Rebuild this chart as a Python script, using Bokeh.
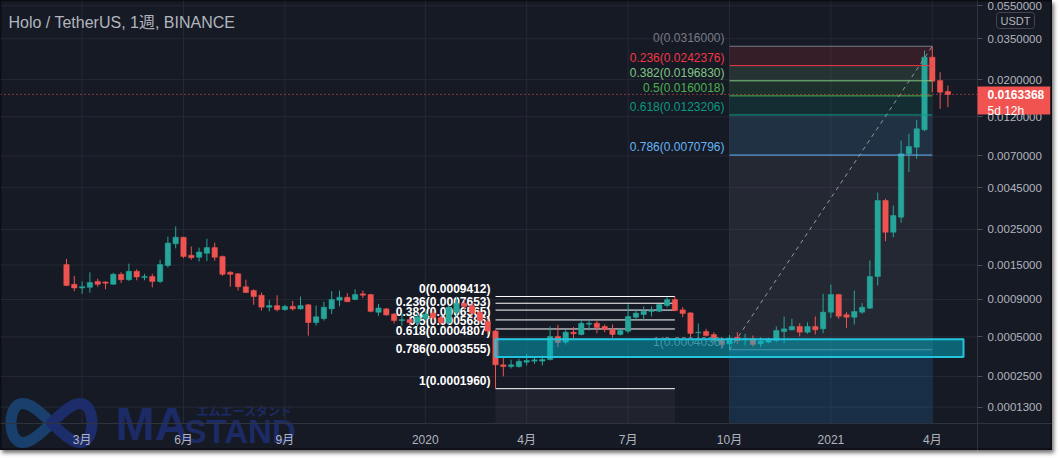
import numpy as np
import pandas as pd
from bokeh.plotting import figure
from bokeh.models import (ColumnDataSource, Range1d, FixedTicker, CustomJSTickFormatter, Label)
from bokeh.core.properties import value
from bokeh.embed import file_html
from bokeh.resources import INLINE

# ---------------- data (weekly candles, HOT/USDT) ----------------
first_week = "2019-02-18"
opens = [0.00151, 0.00113, 0.00107, 0.00108, 0.00118, 0.00117, 0.00113, 0.00131, 0.00121, 0.00137,
         0.00125, 0.00127, 0.00118, 0.00149, 0.00204, 0.00224, 0.00173, 0.00168, 0.00178, 0.00193,
         0.00170, 0.00135, 0.00132, 0.00109, 0.00103, 0.00096, 0.00080, 0.00082, 0.00077, 0.00081,
         0.00078, 0.00083, 0.00063, 0.00067, 0.00078, 0.00089, 0.00093, 0.00090, 0.00098, 0.00097,
         0.00074, 0.00078, 0.00072, 0.00065, 0.00066, 0.00063, 0.00067, 0.00073, 0.00068, 0.00063,
         0.00074, 0.00085, 0.00082, 0.00074, 0.00064, 0.00055, 0.00031, 0.00030, 0.00030, 0.000325,
         0.000331, 0.000331, 0.000341, 0.000504, 0.000458, 0.00054, 0.00052, 0.000613, 0.000623, 0.000592,
         0.000564, 0.00052, 0.000549, 0.000685, 0.000715, 0.000749, 0.000752, 0.000821, 0.000899, 0.000768,
         0.000733, 0.000535, 0.000546, 0.00052, 0.000479, 0.000445, 0.000497, 0.000477, 0.000486, 0.000446,
         0.000458, 0.000471, 0.000546, 0.000561, 0.000592, 0.00054, 0.000592, 0.00057, 0.000741, 0.00097,
         0.000712, 0.000685, 0.000741, 0.000788, 0.001268, 0.003762, 0.002405, 0.002975, 0.00721, 0.007894,
         0.01004, 0.02721, 0.01977, 0.0170]
highs = [0.00164, 0.00128, 0.00118, 0.00135, 0.00123, 0.00118, 0.00134, 0.00135, 0.00153, 0.00141,
         0.00132, 0.00132, 0.00162, 0.00226, 0.00261, 0.00225, 0.00196, 0.00193, 0.00219, 0.00207,
         0.00172, 0.00137, 0.00133, 0.00121, 0.00105, 0.00100, 0.00089, 0.00096, 0.00083, 0.00088,
         0.00094, 0.00084, 0.00082, 0.00087, 0.00102, 0.00103, 0.00099, 0.00105, 0.00103, 0.00098,
         0.00084, 0.00079, 0.00073, 0.00073, 0.00069, 0.00073, 0.00075, 0.00076, 0.00070, 0.00082,
         0.00094, 0.00090, 0.00085, 0.00076, 0.00067, 0.00056, 0.00036, 0.00034, 0.000345, 0.000376,
         0.000355, 0.000365, 0.000592, 0.000608, 0.000561, 0.000586, 0.000658, 0.000658, 0.000651, 0.000611,
         0.000611, 0.00057, 0.000834, 0.00078, 0.000809, 0.000809, 0.00084, 0.000931, 0.0009412, 0.0008,
         0.00074, 0.00062, 0.00057, 0.00054, 0.000495, 0.000516, 0.00054, 0.000526, 0.000512, 0.000497,
         0.000494, 0.000592, 0.000693, 0.000668, 0.000623, 0.000633, 0.000693, 0.00098, 0.001127, 0.00098,
         0.000741, 0.00103, 0.000851, 0.001603, 0.004207, 0.003852, 0.003507, 0.008659, 0.009498, 0.011523,
         0.02982, 0.0316, 0.02215, 0.01846]
lows = [0.00110, 0.00102, 0.00098, 0.00100, 0.00109, 0.00105, 0.00112, 0.00115, 0.00119, 0.00120,
        0.00120, 0.00108, 0.00115, 0.00145, 0.00191, 0.00166, 0.00162, 0.00158, 0.00159, 0.00160,
        0.00128, 0.00109, 0.00103, 0.00099, 0.00083, 0.00076, 0.00075, 0.00075, 0.00076, 0.00076,
        0.00077, 0.00051, 0.00060, 0.00065, 0.00072, 0.00081, 0.00087, 0.00089, 0.00092, 0.00074,
        0.00070, 0.00070, 0.00062, 0.00060, 0.00060, 0.00059, 0.00065, 0.00066, 0.00061, 0.00061,
        0.00070, 0.00077, 0.00069, 0.00062, 0.00052, 0.000196, 0.00025, 0.00029, 0.000295, 0.000306,
        0.000315, 0.000306, 0.000335, 0.000421, 0.000441, 0.000486, 0.000512, 0.000555, 0.000531, 0.00054,
        0.000494, 0.000512, 0.000531, 0.000651, 0.000658, 0.000693, 0.000741, 0.0008, 0.000752, 0.000685,
        0.0005, 0.000491, 0.000504, 0.000458, 0.000421, 0.0004036, 0.000446, 0.000434, 0.000426, 0.000421,
        0.00045, 0.000458, 0.00045, 0.000555, 0.000504, 0.000526, 0.00052, 0.000531, 0.000678, 0.000668,
        0.000579, 0.000611, 0.000723, 0.00078, 0.00111, 0.002116, 0.00224, 0.002749, 0.005583, 0.006723,
        0.009845, 0.01683, 0.01340, 0.0137]
closes = [0.00111, 0.00107, 0.00109, 0.00116, 0.00113, 0.00115, 0.00131, 0.00121, 0.00137, 0.00126,
          0.00127, 0.00118, 0.00151, 0.00206, 0.00224, 0.00170, 0.00167, 0.00181, 0.00193, 0.00168,
          0.00131, 0.00131, 0.00109, 0.00100, 0.00094, 0.00080, 0.00082, 0.00077, 0.00081, 0.00078,
          0.00082, 0.00063, 0.00069, 0.00080, 0.00090, 0.00093, 0.00087, 0.00097, 0.00096, 0.00075,
          0.00079, 0.00071, 0.00065, 0.00066, 0.00063, 0.00069, 0.00072, 0.00068, 0.00063, 0.00080,
          0.00085, 0.00081, 0.00073, 0.00065, 0.00055, 0.00031, 0.00030, 0.00031, 0.00033, 0.000335,
          0.000339, 0.000341, 0.000504, 0.000456, 0.00054, 0.000526, 0.000623, 0.000623, 0.000582, 0.000564,
          0.00052, 0.000555, 0.000693, 0.00073, 0.000752, 0.00076, 0.000834, 0.000899, 0.00076, 0.000726,
          0.000529, 0.00054, 0.000512, 0.000477, 0.000441, 0.000491, 0.000471, 0.000486, 0.000441, 0.000466,
          0.000483, 0.000555, 0.00057, 0.000592, 0.00054, 0.000592, 0.000561, 0.000741, 0.00097, 0.000696,
          0.000685, 0.000749, 0.0008, 0.001268, 0.003762, 0.002405, 0.003047, 0.007205, 0.00797, 0.010177,
          0.02721, 0.01958, 0.01683, 0.0163368]

title = "Holo / TetherUS, 1週, BINANCE"
quote_ccy = "USDT"
last_price = 0.0163368
countdown = "5d 12h"

x_tick_dates = ["2019-03-04", "2019-06-03", "2019-09-02", "2020-01-06", "2020-04-06",
                "2020-07-06", "2020-10-05", "2021-01-04", "2021-04-05"]
y_tick_prices = [0.055, 0.035, 0.02, 0.012, 0.007, 0.0045, 0.0025, 0.0015, 0.0009,
                 0.0005, 0.00025, 0.00013]

fib_levels = [0, 0.236, 0.382, 0.5, 0.618, 0.786, 1]
fib1_high, fib1_low = 0.0009412, 0.000196
fib1_start, fib1_end = "2020-03-09", "2020-08-17"
fib1_extra_line = 0.00085
fib2_high, fib2_low = 0.0316, 0.0004036
fib2_start, fib2_end = "2020-10-05", "2021-04-05"
fib2_colors = ["#787b86", "#f23645", "#81c784", "#4caf50", "#089981", "#64b5f6", "#787b86"]
fib2_ext_color = "#2196f3"

box_top, box_bottom = 0.0004807, 0.0003555
box_start, box_end = "2020-03-09", "2021-05-03"

watermark_name = ["MA", "STAND"]
watermark_kana = "エムエースタンド"

# ---------------- helpers / layout ----------------
def tv(p):
    """TradingView-style logarithmic price coordinate."""
    return np.log10(np.asarray(p, dtype=float) + 1e-4)

BG = "#161a25"
GRID = "#252934"
TXT = "#b2b5be"
UP, DOWN = "#26a69a", "#ef5350"
FONT = "Liberation Sans"
CJK = "Liberation Sans, Noto Sans CJK JP"
W, H = 1052, 450

week = pd.Timedelta(days=7)
t0 = pd.Timestamp(first_week)
PXW = 7.8          # pixels per week
X0PX = 66          # pixel of first candle
def xpx(px):
    return t0 + week * ((np.asarray(px) - X0PX) / PXW)

x_lo, x_hi = xpx(0), xpx(W)
price_axis_x = xpx(977)
y_lo, y_hi = float(tv(0.00002731)), float(tv(0.059096))
time_axis_y = float(tv(0.00008403))
def ypx(py):
    return y_hi - (np.asarray(py, dtype=float) / H) * (y_hi - y_lo)

dates = pd.date_range(first_week, periods=len(opens), freq="7D")

p = figure(width=W, height=H, x_axis_type="datetime", y_axis_location="right",
           x_range=Range1d(x_lo, x_hi), y_range=Range1d(y_lo, y_hi),
           output_backend="svg", toolbar_location=None, min_border=0,
           background_fill_color=BG, border_fill_color=BG,
           outline_line_color="#0b0d13", outline_line_width=2)
p.styles = {"box-shadow": "2px 3px 4px rgba(0, 0, 0, 0.55)"}
p.grid.visible = False

x_ticks = [pd.Timestamp(d).value // 10**6 for d in x_tick_dates]
y_ticks = [float(v) for v in tv(y_tick_prices)]

xa, ya = p.xaxis[0], p.yaxis[0]
xa.fixed_location = time_axis_y
ya.fixed_location = price_axis_x.value / 1e6
xa.ticker = FixedTicker(ticks=x_ticks)
xa.formatter = CustomJSTickFormatter(code="""
const d = new Date(tick); const m = d.getUTCMonth();
return m == 0 ? String(d.getUTCFullYear()) : (m + 1) + "月";""")
ya.ticker = FixedTicker(ticks=y_ticks)
ya.formatter = CustomJSTickFormatter(code="return (Math.pow(10, tick) - 1e-4).toFixed(7);")
for ax in (xa, ya):
    ax.axis_line_color = "#2f333e"
    ax.major_label_text_color = TXT
    ax.minor_tick_line_color = None
xa.major_tick_line_color = None
xa.major_label_standoff = 3
xa.major_label_text_font = CJK
xa.major_label_text_font_size = "12px"
ya.major_tick_line_color = "#4a4e59"
ya.major_tick_in = 0
ya.major_tick_out = 5
ya.major_label_standoff = 5
ya.major_label_text_font = FONT
ya.major_label_text_font_size = "11.5px"

# grid lines (stop at the axes)
p.segment(x0=x_ticks, x1=x_ticks, y0=y_hi, y1=time_axis_y, line_color=GRID, line_width=1)
p.segment(x0=x_lo, x1=price_axis_x, y0=y_ticks, y1=y_ticks, line_color=GRID, line_width=1)

# watermark: infinity-shaped logo (decoration) and brand text
wm = "#1c2b66"
t_right = np.linspace(0, np.pi, 60)
t_left = np.linspace(np.pi, 2 * np.pi, 60)
for tt, col in ((t_left, "#19406c"), (t_right, "#1d2d6c")):
    p.line(x=xpx(51 + 40.5 * np.sin(tt)), y=ypx(422.5 - 19.5 * np.sin(2 * tt)),
           line_color=col, line_width=11, line_cap="round", line_join="round")
for txt, fx, fy, size, font, col in [
    (watermark_name[0], 115, 27, "47px", FONT, wm),
    (watermark_name[1], 184, 19, "33px", FONT, wm),
    (watermark_kana, 196, 40, "12px", "Noto Sans CJK JP", wm)]:
    p.add_layout(Label(x=fx, y=fy, x_units="screen", y_units="screen", text=txt,
                       text_color=col, text_font=font, text_font_size=size,
                       text_font_style="bold", text_baseline="middle", text_align="left",
                       level="underlay"))

# fib 2 fills (right)
f2_prices = [fib2_high - l * (fib2_high - fib2_low) for l in fib_levels]
f2s, f2e = pd.Timestamp(fib2_start), pd.Timestamp(fib2_end)
fill_src = ColumnDataSource(dict(
    top=[float(tv(f2_prices[i - 1])) for i in range(1, 7)] + [float(tv(f2_prices[6]))],
    bottom=[float(tv(f2_prices[i])) for i in range(1, 7)] + [time_axis_y],
    color=fib2_colors[1:] + [fib2_ext_color],
    alpha=[0.15] * 6 + [0.17]))
p.quad(left=f2s, right=f2e, top="top", bottom="bottom", fill_color="color",
       fill_alpha="alpha", line_color=None, source=fill_src)

# fib 1 (left): fill below level 1, lines, labels
f1_prices = [fib1_high - l * (fib1_high - fib1_low) for l in fib_levels]
f1s, f1e = pd.Timestamp(fib1_start), pd.Timestamp(fib1_end)
p.quad(left=f1s, right=f1e, top=float(tv(fib1_low)), bottom=time_axis_y,
       fill_color="white", fill_alpha=0.045, line_color=None)
f1_lines = [float(v) for v in tv(f1_prices + [fib1_extra_line])]
p.segment(x0=f1s, x1=f1e, y0=f1_lines, y1=f1_lines, line_color="white", line_width=1)
p.text(x=[f1s] * 7, y=[float(v) for v in tv(f1_prices)],
       text=[f"{l:g}({v:.7f})" for l, v in zip(fib_levels, f1_prices)],
       text_color="white", text_font=value(FONT), text_font_size="12px", text_font_style="bold",
       text_align="right", text_baseline="bottom", x_offset=-5, y_offset=-1)

# candles
df = pd.DataFrame(dict(date=dates, o=opens, h=highs, l=lows, c=closes))
df["color"] = np.where(df.c >= df.o, UP, DOWN)
df["yh"], df["yl"] = tv(df.h), tv(df.l)
df["top"] = tv(np.maximum(df.o, df.c))
df["bot"] = tv(np.minimum(df.o, df.c))
src = ColumnDataSource(df)
p.segment(x0="date", x1="date", y0="yh", y1="yl", line_color="color", line_width=1, source=src)
p.vbar(x="date", width=week * 0.69, top="top", bottom="bot", fill_color="color",
       line_color="color", line_width=0.5, source=src)

# fib 2 lines, labels, trend line
f2_y = [float(v) for v in tv(f2_prices)]
p.segment(x0=f2s, x1=f2e, y0=f2_y, y1=f2_y, line_color=fib2_colors, line_width=1)
p.text(x=[f2s] * 7, y=f2_y, text=[f"{l:g}({v:.7f})" for l, v in zip(fib_levels, f2_prices)],
       text_color=fib2_colors, text_font=value(FONT), text_font_size="12px",
       text_align="right", text_baseline="bottom", x_offset=-5, y_offset=-1)
p.line(x=[f2s, f2e], y=[float(tv(fib2_low)), float(tv(fib2_high))], line_color="#9598a1",
       line_dash="4 4", line_width=1)

# cyan box
p.quad(left=pd.Timestamp(box_start), right=pd.Timestamp(box_end), top=float(tv(box_top)),
       bottom=float(tv(box_bottom)), fill_color="#00bcd4", fill_alpha=0.45,
       line_color="#22c3dc", line_width=2)

# last price line and labels
lp = float(tv(last_price))
p.segment(x0=x_lo, x1=price_axis_x, y0=lp, y1=lp, line_color=DOWN, line_dash="1 3", line_width=1)
p.add_layout(Label(x=977, y=H - 86, x_units="screen", y_units="screen", text=f"{last_price:.7f}",
                   text_color="white", text_font=FONT, text_font_size="12px", text_font_style="bold",
                   text_align="left", text_baseline="top", background_fill_color="#f05350",
                   padding=dict(left=10, right=6, top=3, bottom=16)))
p.add_layout(Label(x=987, y=H - 103, x_units="screen", y_units="screen", text=countdown,
                   text_color="white", text_font=FONT, text_font_size="12px",
                   text_align="left", text_baseline="top"))
p.add_layout(Label(x=1015, y=H - 20, x_units="screen", y_units="screen", text=quote_ccy,
                   text_color=TXT, text_font=FONT, text_font_size="11px",
                   text_align="center", text_baseline="middle", background_fill_color=BG,
                   border_line_color="#434651", border_radius=3,
                   padding=dict(left=4, right=4, top=2, bottom=2)))
p.add_layout(Label(x=8, y=H - 22, x_units="screen", y_units="screen", text=title,
                   text_color=TXT, text_font=CJK, text_font_size="16px",
                   text_align="left", text_baseline="middle"))

open("out.html", "w").write(file_html(p, INLINE))
